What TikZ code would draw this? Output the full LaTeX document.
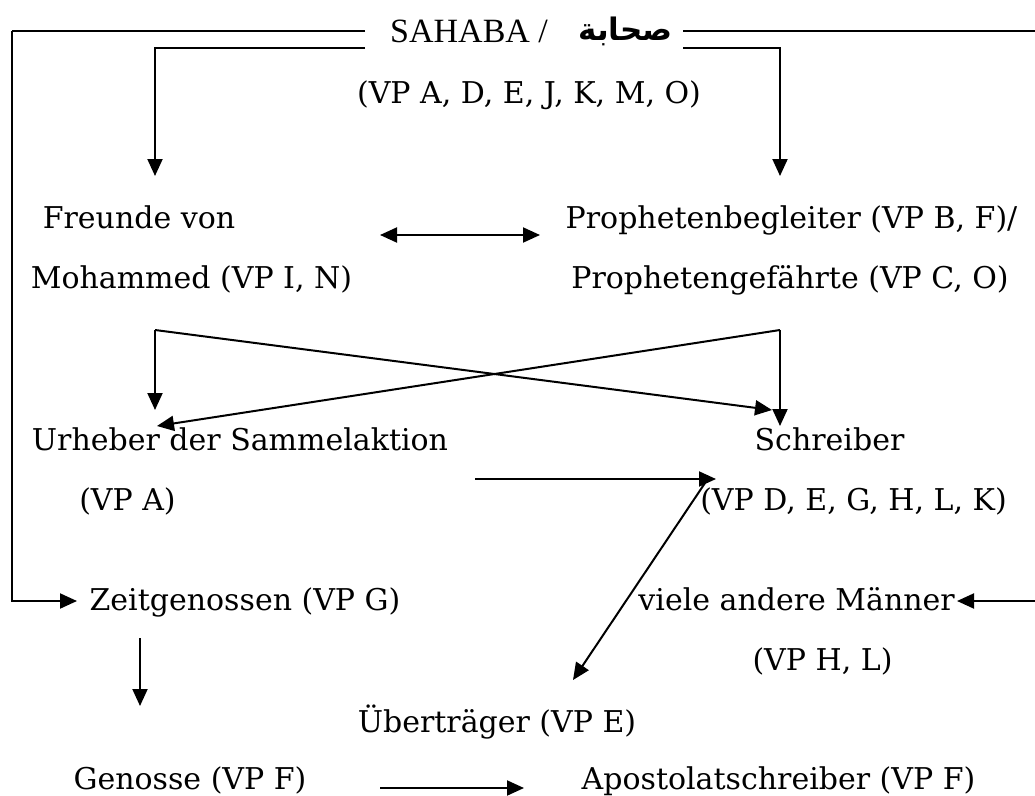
\documentclass[tikz,border=0pt]{standalone}
\usepackage{fontspec}
\setmainfont{DejaVu Serif}
\newfontfamily\titlefont{Liberation Serif}
\newfontfamily\arabicfont[Script=Arabic]{DejaVu Sans}
\TeXXeTstate=1
\usetikzlibrary{arrows.meta}
\begin{document}
\begin{tikzpicture}[x=1pt,y=-1pt,
  lbl/.style={anchor=base,inner sep=0pt,font=\fontsize{30}{36}\selectfont},
  conn/.style={line width=2pt,-{Triangle[width=15pt,length=17pt]}},
  both/.style={line width=2pt,{Triangle[width=15pt,length=17pt]}-{Triangle[width=15pt,length=17pt]}},
  plain/.style={line width=2pt}]
\useasboundingbox (0,0) rectangle (1035,795);
% title
\node[anchor=base west,inner sep=0pt,font=\fontsize{34}{40}\selectfont\titlefont] (title) at (390,42) {SAHABA /};
\node[anchor=base east,inner sep=0pt,font=\fontsize{31}{36}\selectfont\arabicfont\bfseries] (titlear) at (673,40) {\beginR صحابة\endR};
\node[lbl] (vp) at (529,103) {(VP A, D, E, J, K, M, O)};
\node[lbl] (freunde) at (139,228) {Freunde von};
\node[lbl] (moh) at (191.5,288) {Mohammed (VP I, N)};
\node[lbl] (begl) at (791.5,228) {Prophetenbegleiter (VP B, F)/};
\node[lbl] (gef) at (790,288) {Prophetengefährte (VP C, O)};
\node[lbl] (urh) at (240,450) {Urheber der Sammelaktion};
\node[lbl] (schr) at (829.5,450) {Schreiber};
\node[lbl] (vpa) at (127.5,510) {(VP A)};
\node[lbl] (vpd) at (853.5,510) {(VP D, E, G, H, L, K)};
\node[lbl] (zeit) at (245,610) {Zeitgenossen (VP G)};
\node[lbl,anchor=base east] (viele) at (955,610) {viele andere Männer};
\node[lbl] (vph) at (822.5,670) {(VP H, L)};
\node[lbl] (uebe) at (497,732) {Überträger (VP E)};
\node[lbl] (gen) at (190,789) {Genosse (VP F)};
\node[lbl] (apo) at (778.5,789) {Apostolatschreiber (VP F)};
% coordinates
\coordinate (tL) at (12,31);
\coordinate (tLe) at (365,31);
\coordinate (tRs) at (683,31);
\coordinate (tR) at (1035,31);
\coordinate (sL) at (155,48);
\coordinate (sLe) at (365,48);
\coordinate (sRs) at (683,48);
\coordinate (sR) at (780,48);
\coordinate (fTip) at (155,176);
\coordinate (pTip) at (780,176);
\coordinate (dA) at (380,235);
\coordinate (dB) at (540,235);
\coordinate (xL) at (155,330);
\coordinate (xR) at (780,330);
\coordinate (xLd) at (155,410);
\coordinate (xRd) at (780,426);
\coordinate (xLt) at (772,410);
\coordinate (xRt) at (157,426);
\coordinate (uA) at (475,479);
\coordinate (uB) at (716,479);
\coordinate (dgA) at (705,483);
\coordinate (dgB) at (573,680);
\coordinate (zL) at (12,601);
\coordinate (zTip) at (77,601);
\coordinate (mR) at (1035,601);
\coordinate (mTip) at (957,601);
\coordinate (gA) at (140,638);
\coordinate (gB) at (140,706);
\coordinate (aA) at (380,788);
\coordinate (aB) at (524,788);
% lines
\draw[plain] (tLe) -- (tL);
\draw[plain] (tRs) -- (tR);
\draw[conn] (sLe) -- (sL) -- (fTip);
\draw[conn] (sRs) -- (sR) -- (pTip);
\draw[conn] (tL) -- (zL) -- (zTip);
\draw[conn] (mR) -- (mTip);
\draw[both] (dA) -- (dB);
\draw[conn] (xL) -- (xLd);
\draw[conn] (xL) -- (xLt);
\draw[conn] (xR) -- (xRd);
\draw[conn] (xR) -- (xRt);
\draw[conn] (uA) -- (uB);
\draw[conn] (dgA) -- (dgB);
\draw[conn] (gA) -- (gB);
\draw[conn] (aA) -- (aB);
\end{tikzpicture}
\end{document}
